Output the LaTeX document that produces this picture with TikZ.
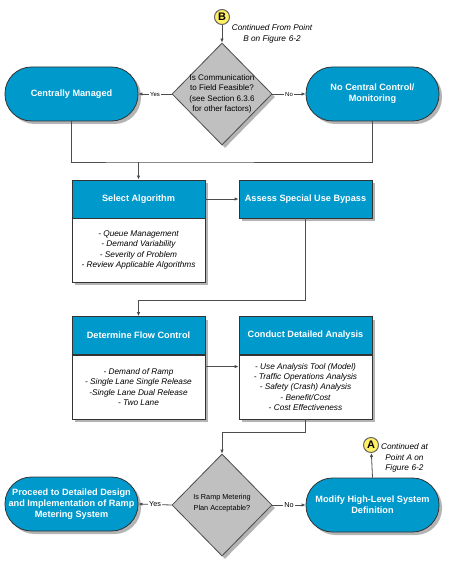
\documentclass[tikz,border=0pt]{standalone}
\usepackage{fontspec}
\setmainfont{Liberation Sans}
\usetikzlibrary{shapes.geometric,shadows,arrows.meta,calc}
\definecolor{mblue}{HTML}{0099CC}
\definecolor{dgray}{HTML}{C0C0C0}
\definecolor{shgray}{HTML}{B4B4B4}
\definecolor{lineg}{HTML}{4D4D4D}
\definecolor{myyellow}{HTML}{FFF064}
\begin{document}
\begin{tikzpicture}[x=1bp,y=-1bp,
  shd/.style={drop shadow={shadow xshift=3bp,shadow yshift=-3bp,opacity=1,fill=shgray}},
  pill/.style={shd,rectangle,rounded corners=26.5bp,minimum width=133bp,minimum height=54bp,
    fill=mblue,draw=black!80,line width=0.8bp,text=white,align=center,inner sep=0pt,
    font=\fontsize{9.2}{11}\selectfont\bfseries},
  hdr/.style={shd,rectangle,minimum width=133bp,minimum height=38bp,fill=mblue,draw=black!80,
    line width=0.8bp,text=white,inner sep=0pt,font=\fontsize{9.2}{11}\selectfont\bfseries},
  bdy/.style={shd,rectangle,minimum width=133bp,minimum height=64bp,fill=white,draw=black!80,
    line width=0.8bp,align=center,inner sep=0pt,font=\fontsize{8.3}{10.3}\selectfont\itshape},
  dmd/.style={shd,diamond,minimum width=100bp,minimum height=102bp,fill=dgray,draw=black!70,
    line width=0.8bp,inner sep=0pt},
  dtext/.style={align=center,inner sep=0pt,font=\fontsize{8.1}{10.3}\selectfont},
  circ/.style={circle,minimum size=15bp,fill=myyellow,draw=black!60,line width=1bp,inner sep=0pt,
    font=\fontsize{11}{11}\selectfont\bfseries},
  note/.style={align=center,inner sep=0pt,font=\fontsize{8.3}{10.8}\selectfont\itshape},
  conn/.style={draw=lineg,line width=0.8bp},
  arr/.style={conn,-{Latex[length=4bp,width=3.5bp]}},
  lbl/.style={fill=white,inner sep=1bp,font=\fontsize{6}{7}\selectfont},
  lblb/.style={fill=white,inner sep=1bp,font=\fontsize{7.3}{8}\selectfont}]
\useasboundingbox (0,0) rectangle (450,561);
% top
\node[circ] (B) at (222,17) {B};
\node[note] (nB) at (272,34) {Continued From Point\\B on Figure\,\,6-2};
\node[dmd] (d1) at (222,94) {};
\node[dtext] (t1) at (222,94) {Is Communication\\to Field Feasible?\\(see Section 6.3.6\\for other factors)};
\node[pill] (cm) at (71.5,94) {Centrally Managed};
\node[pill] (nc) at (372.5,94) {No Central Control/\\Monitoring};
% boxes
\node[hdr] (sah) at (138.5,199) {Select Algorithm};
\node[bdy] (sab) at (138.5,250) {- Queue Management\\- Demand Variability\\- Severity of Problem\\- Review Applicable Algorithms};
\node[hdr] (as) at (305.5,199) {Assess Special Use Bypass};
\node[hdr] (dfh) at (138.5,335.5) {Determine Flow Control};
\node[bdy] (dfb) at (138.5,387) {- Demand of Ramp\\- Single Lane Single Release\\-Single Lane Dual Release\\- Two Lane};
\node[hdr] (cah) at (305.5,335.5) {Conduct Detailed Analysis};
\node[bdy] (cab) at (305.5,387) {- Use Analysis Tool (Model)\\- Traffic Operations Analysis\\- Safety (Crash) Analysis\\- Benefit/Cost\\- Cost Effectiveness};
% bottom
\node[dmd] (d2) at (222,505) {};
\node[dtext,font=\fontsize{7.3}{10.5}\selectfont] (t2) at (222,503) {Is Ramp Metering\\Plan Acceptable?};
\node[pill] (pr) at (71.5,504) {Proceed to Detailed Design\\and Implementation of Ramp\\Metering System};
\node[pill] (mo) at (372.5,505) {Modify High-Level System\\Definition};
\node[circ] (A) at (371,445) {A};
\node[note] (nA) at (404.5,458) {Continued at\\Point A on\\Figure\,\,6-2};
% junctions
\coordinate (j1) at (138.5,162);
\coordinate (j2) at (138.5,300);
\coordinate (j3) at (222,432);
% connectors
\draw[arr] (B) -- (d1.north);
\draw[arr] (d1.west) -- node[lbl]{Yes} (cm.east);
\draw[arr] (d1.east) -- node[lbl]{No} (nc.west);
\draw[conn] (cm.south) |- (j1) -| (nc.south);
\draw[arr] (j1) -- (sah.north);
\draw[arr] (sah.east) -- (as.west);
\draw[arr] (as.south) |- (j2) -- (dfh.north);
\draw[arr] ([yshift=-12bp]dfb.north east) -- ([yshift=-12bp]cab.north west);
\draw[arr] (cab.south) |- (j3) -- (d2.north);
\draw[arr] (d2.west) -- node[lblb]{Yes} (pr.east);
\draw[arr] (d2.east) -- node[lblb]{No} (mo.west);
\draw[arr] (mo.north) -- (A);
\end{tikzpicture}
\end{document}
